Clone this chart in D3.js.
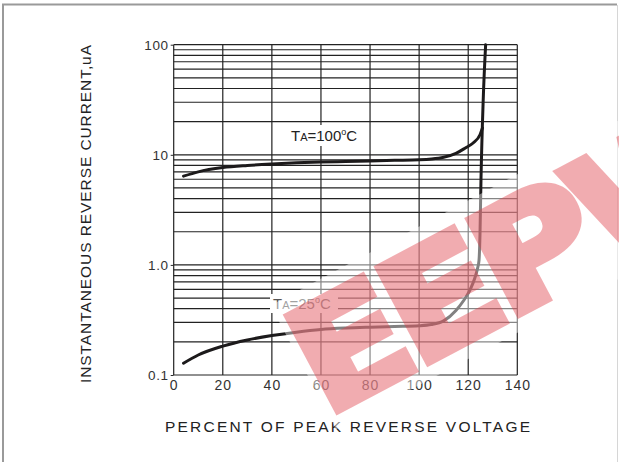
<!DOCTYPE html>
<html lang="en">
<head>
  <meta charset="UTF-8">
  <title>reverse current</title>
  <script src="https://cdn.jsdelivr.net/npm/d3@7/dist/d3.min.js"></script>
  <style>
    body { margin: 0; background: #fff; }
    svg { display: block; font-family: "Liberation Sans", Arial, sans-serif; }
  </style>
</head>
<body>
<svg></svg>
<script>
  // percent of peak reverse voltage -> uA
  const tj25 = [[4, 0.128], [10, 0.152], [20, 0.183], [30, 0.208], [40, 0.228], [50, 0.245], [60, 0.259],
    [70, 0.267], [80, 0.272], [90, 0.276], [100, 0.28], [105, 0.287], [110, 0.31], [115, 0.385],
    [118, 0.47], [120.7, 0.59], [122.7, 0.76], [123.8, 0.93], [124.4, 1.1], [124.8, 1.9],
    [125.2, 5.9], [126.1, 31], [127.1, 100]]
  const tj100 = [[4, 6.4], [10, 7.0], [20, 7.65], [30, 8.0], [40, 8.25], [50, 8.45], [60, 8.6],
    [70, 8.7], [80, 8.8], [90, 8.9], [100, 9.0], [105, 9.15], [110, 9.5], [115, 10.3],
    [119, 11.6], [122, 12.8], [124.8, 15.2], [125.8, 17.5]]

  const xTicks = [0, 20, 40, 60, 80, 100, 120, 140]
  const yTicks = [0.1, 1, 10, 100]
  const yTickLabels = ["0.1", "1.0", "10", "100"]

  const width = 619, height = 462

  const svg = d3.select('svg')
      .attr('width', width)
      .attr('height', height)

  // outer frame
  svg.append('path').attr('d', 'M3,470V4.5H617').attr('fill', 'none').attr('stroke', '#9a9a9a').attr('stroke-width', 2)
  svg.append('line').attr('x1', 617.5).attr('x2', 617.5).attr('y1', 5).attr('y2', height)
      .attr('stroke', '#d6d6d6')

  const x = d3.scaleLinear().domain([0, 140]).range([173.7, 517.3])
  const y = d3.scaleLog().domain([0.1, 100]).range([375, 44.7])

  // grid
  const grid = svg.append('g').attr('stroke', '#222').attr('stroke-width', 1.2)
  grid.selectAll('.h').data(y.ticks()).join('line')
      .attr('x1', x(0)).attr('x2', x(140))
      .attr('y1', d => y(d)).attr('y2', d => y(d))
  grid.selectAll('.v').data(xTicks).join('line')
      .attr('x1', d => x(d)).attr('x2', d => x(d))
      .attr('y1', y(100)).attr('y2', y(0.1))

  // axes (labels only)
  svg.append('g')
      .attr('transform', `translate(${x(0)},0)`)
      .call(d3.axisLeft(y).tickValues(yTicks).tickSize(3).tickPadding(2)
          .tickFormat((d, i) => yTickLabels[i]))
      .call(g => g.select('.domain').remove())
      .call(g => g.selectAll('line').attr('stroke', '#2a2a2a'))
      .call(g => g.selectAll('text').attr('font-size', 13.5).attr('fill', '#333')
          .attr('letter-spacing', 0.6).attr('font-family', '"Liberation Sans", Arial, sans-serif'))

  svg.append('g')
      .attr('transform', `translate(0,${y(0.1)})`)
      .call(d3.axisBottom(x).tickValues(xTicks).tickSize(0).tickPadding(5))
      .call(g => g.select('.domain').remove())
      .call(g => g.selectAll('text').attr('font-size', 14).attr('fill', '#333')
          .attr('letter-spacing', 1).attr('font-family', '"Liberation Sans", Arial, sans-serif'))

  // temperature labels with white boxes
  const tempLabel = (lx, ly, temp, color, box) => {
    svg.append('rect').attr('x', box[0]).attr('y', box[1]).attr('width', box[2]).attr('height', box[3]).attr('fill', '#fff')
    const t = svg.append('text').attr('x', lx).attr('y', ly).attr('fill', color).attr('font-size', 15)
    t.append('tspan').text('T')
    t.append('tspan').attr('font-size', 11).text('A')
    t.append('tspan').text('=' + temp)
    t.append('tspan').attr('font-size', 9).attr('dy', -6).text('o')
    t.append('tspan').attr('dy', 6).text('C')
  }
  tempLabel(291, 141, '100', '#222', [287, 125, 78, 21])
  tempLabel(273, 309, '25', '#555', [270, 294, 68, 19])

  // curves
  const line = d3.line()
      .x(d => x(d[0]))
      .y(d => y(d[1]))
      .curve(d3.curveMonotoneX)

  svg.selectAll('.curve').data([tj25, tj100]).join('path')
      .attr('fill', 'none')
      .attr('stroke', '#1c1a1b')
      .attr('stroke-width', 3)
      .attr('stroke-linecap', 'round')
      .attr('d', line)

  // axis titles
  svg.append('text')
      .attr('x', 165).attr('y', 432)
      .attr('font-size', 15.5).attr('fill', '#222')
      .attr('textLength', 365).attr('lengthAdjust', 'spacing')
      .text('PERCENT OF PEAK REVERSE VOLTAGE')

  svg.append('text')
      .attr('transform', 'translate(91,383) rotate(-90)')
      .attr('font-size', 15.5).attr('fill', '#222')
      .attr('textLength', 338).attr('lengthAdjust', 'spacing')
      .text('INSTANTANEOUS REVERSE CURRENT,uA')

  // watermark (runs off the right edge, as in the source image)
  const wm = svg.append('g').attr('transform', 'translate(343,412) rotate(-28)')
  wm.append('rect').attr('x', -14).attr('y', -128).attr('width', 480).attr('height', 140)
      .attr('fill', '#fff').attr('opacity', 0.45)
  wm.append('text')
      .attr('transform', 'scale(1.12,1)')
      .attr('x', -16).attr('y', -4)
      .attr('font-family', '"DejaVu Sans", sans-serif')
      .attr('font-weight', 'bold')
      .attr('font-size', 146)
      .attr('letter-spacing', -8)
      .attr('fill', 'rgb(224,60,70)')
      .attr('stroke', 'rgb(224,60,70)')
      .attr('stroke-width', 8)
      .attr('opacity', 0.42)
      .text('EEPW')
</script>
</body>
</html>
